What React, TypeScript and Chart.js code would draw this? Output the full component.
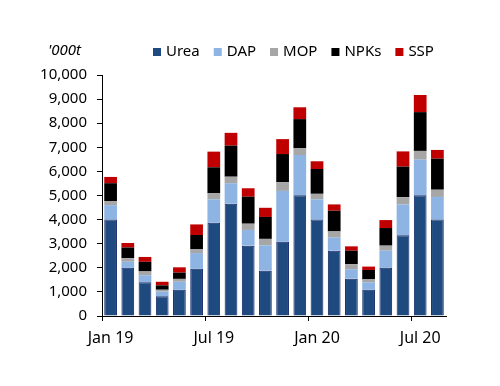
import React, { useEffect, useRef } from "react";
import { Chart, registerables } from "chart.js";

Chart.register(...registerables);

const categories = [
  "Jan 19", "Feb 19", "Mar 19", "Apr 19", "May 19", "Jun 19",
  "Jul 19", "Aug 19", "Sep 19", "Oct 19", "Nov 19", "Dec 19",
  "Jan 20", "Feb 20", "Mar 20", "Apr 20", "May 20", "Jun 20",
  "Jul 20", "Aug 20",
];

const urea = [4000, 2000, 1400, 820, 1090, 1960, 3870, 4660, 2920, 1880, 3080, 5010, 4000, 2710, 1550, 1090, 2000, 3350, 5010, 4000];
const dap = [600, 250, 290, 190, 330, 650, 970, 850, 650, 1050, 2110, 1670, 840, 540, 390, 310, 710, 1280, 1480, 940];
const mop = [170, 150, 160, 80, 120, 170, 250, 270, 260, 270, 360, 280, 230, 260, 210, 120, 210, 300, 360, 300];
const npks = [740, 440, 400, 180, 260, 580, 1080, 1290, 1120, 910, 1170, 1210, 1030, 860, 560, 390, 730, 1270, 1610, 1290];
const ssp = [260, 190, 200, 150, 220, 440, 650, 530, 350, 380, 620, 490, 320, 260, 180, 140, 330, 630, 710, 360];

const yTicks = [0, 1000, 2000, 3000, 4000, 5000, 6000, 7000, 8000, 9000, 10000];
const unitLabel = "'000t";

const FONT = "'Noto Sans', sans-serif";

export default function App() {
  const ref = useRef<HTMLCanvasElement>(null);

  useEffect(() => {
    document.body.style.margin = "0";
    const canvas = ref.current;
    if (!canvas) return;

    const overlay = {
      id: "overlay",
      afterDraw(chart: any) {
        const ctx = chart.ctx;
        ctx.save();
        ctx.fillStyle = "#000";
        ctx.textBaseline = "middle";
        ctx.font = `italic 15px ${FONT}`;
        ctx.textAlign = "left";
        ctx.fillText(unitLabel, 48, 51);
        ctx.font = `15px ${FONT}`;
        let x = 153;
        chart.data.datasets.forEach((ds: any) => {
          ctx.fillStyle = ds.backgroundColor;
          ctx.fillRect(x, 48, 8, 8);
          ctx.fillStyle = "#000";
          ctx.fillText(ds.label, x + 13, 52);
          x += 13 + ctx.measureText(ds.label).width + 14;
        });
        ctx.restore();
      },
    };

    const chart = new Chart(canvas, {
      type: "bar",
      data: {
        labels: categories,
        datasets: [
          { label: "Urea", data: urea, backgroundColor: "#1F4A80", borderColor: "#0E2466", borderWidth: 1 },
          { label: "DAP", data: dap, backgroundColor: "#8DB4E2", borderWidth: 0 },
          { label: "MOP", data: mop, backgroundColor: "#A6A6A6", borderWidth: 0 },
          { label: "NPKs", data: npks, backgroundColor: "#000000", borderWidth: 0 },
          { label: "SSP", data: ssp, backgroundColor: "#C00000", borderWidth: 0 },
        ],
      },
      options: {
        responsive: false,
        animation: false,
        devicePixelRatio: 1,
        datasets: { bar: { barPercentage: 0.74, categoryPercentage: 1 } },
        layout: { padding: { top: 75, left: 0, right: 54, bottom: 40 } },
        plugins: { legend: { display: false }, tooltip: { enabled: false } },
        scales: {
          x: {
            stacked: true,
            border: { display: true, color: "#000", width: 1 },
            grid: {
              offset: true,
              drawOnChartArea: false,
              tickLength: 5,
              color: (c: any) => (c.index % 6 === 0 ? "#000" : "rgba(0,0,0,0)"),
            },
            ticks: {
              autoSkip: false,
              maxRotation: 0,
              padding: 8,
              color: "#000",
              font: { family: FONT, size: 16 },
              callback: (_v: any, i: number) => (i % 6 === 0 ? categories[i] : ""),
            },
            afterFit: (s: any) => { s.height = 30; },
          },
          y: {
            stacked: true,
            min: 0,
            max: 10000,
            afterBuildTicks: (s: any) => { s.ticks = yTicks.map((v) => ({ value: v })); },
            border: { display: true, color: "#000", width: 1 },
            grid: { drawOnChartArea: false, tickLength: 5, color: "#000" },
            ticks: {
              padding: 10,
              color: "#000",
              font: { family: FONT, size: 15 },
              callback: (v: any) => Number(v).toLocaleString("en-US"),
            },
            afterFit: (s: any) => { s.width = 102; },
          },
        },
      },
      plugins: [overlay],
    });

    return () => chart.destroy();
  }, []);

  return (
    <div style={{ width: 500, height: 386 }}>
      <canvas ref={ref} width={500} height={386} />
    </div>
  );
}
